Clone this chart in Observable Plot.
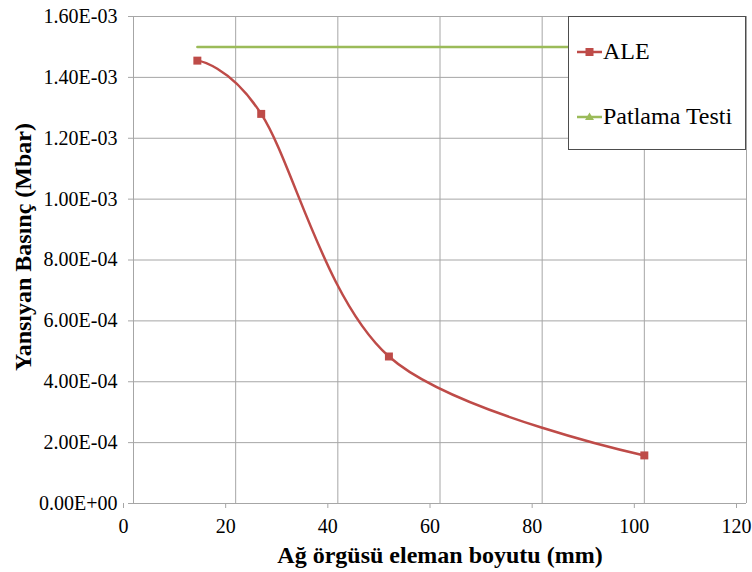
<!DOCTYPE html>
<html>
<head>
<meta charset="utf-8">
<script src="https://cdn.jsdelivr.net/npm/d3@7"></script>
<script src="https://cdn.jsdelivr.net/npm/@observablehq/plot@0.6"></script>
<style>
  html, body { margin: 0; padding: 0; background: #fff; }
  #chart { position: relative; width: 752px; height: 572px; }
  #chart svg text { font-family: "Liberation Serif", "Times New Roman", Tinos, "DejaVu Serif", serif !important; }
  #chart svg g[aria-label$="tick label"] text { font-size: 20px !important; }
</style>
</head>
<body>
<div id="chart"></div>
<script>
// Data
const aleX = [12.5, 25, 50, 100];
const aleY = [0.001455, 0.00128, 0.000483, 0.000158];
const testX = [12.5, 100];
const testY = [0.0015, 0.0015];
const xTicks = [0, 20, 40, 60, 80, 100, 120];
const yTicks = [0, 0.0002, 0.0004, 0.0006, 0.0008, 0.001, 0.0012, 0.0014, 0.0016];
const seriesNames = ["ALE", "Patlama Testi"];
const seriesColors = ["#be4b48", "#9bbb59"];
const xTitle = "Ağ örgüsü eleman boyutu (mm)";
const yTitle = "Yansıyan Basınç (Mbar)";

const ale = aleX.map((x, i) => ({x, y: aleY[i]}));
const test = testX.map((x, i) => ({x, y: testY[i]}));

function fmtE(d) {
  let [m, e] = d.toExponential(2).split("e");
  const sign = e[0] === "-" ? "-" : "+";
  e = e.replace(/^[+-]/, "").padStart(2, "0");
  return (m + "E" + sign + e);
}

const font = '"Liberation Serif", "Times New Roman", Tinos, "DejaVu Serif", serif';
const gridColor = "#a6a6a6";

const plot = Plot.plot({
  width: 752,
  height: 572,
  marginLeft: 133,
  marginRight: 6,
  marginTop: 16,
  marginBottom: 69,
  style: {fontFamily: font, fontSize: "20px", color: "#000", background: "#fff"},
  x: {domain: [0, 120], ticks: xTicks, label: null},
  y: {domain: [0, 0.0016], ticks: yTicks, label: null},
  marks: [
    Plot.gridX(xTicks.slice(1), {stroke: gridColor, strokeOpacity: 1}),
    Plot.gridY(yTicks.slice(1), {stroke: gridColor, strokeOpacity: 1}),
    Plot.ruleX([0], {stroke: gridColor}),
    Plot.ruleY([0], {stroke: gridColor}),
    Plot.axisX(xTicks, {tickSize: 5, tickPadding: 10, stroke: gridColor, fill: "#000", fontSize: 20, dx: -10, tickFormat: d => String(d)}),
    Plot.axisY(yTicks, {tickSize: 5, tickPadding: 11, stroke: gridColor, fill: "#000", fontSize: 20, tickFormat: fmtE}),
    Plot.line(test, {x: "x", y: "y", stroke: seriesColors[1], strokeWidth: 2.5}),
    Plot.line(ale, {x: "x", y: "y", stroke: seriesColors[0], strokeWidth: 2.5, curve: "cardinal"}),
    Plot.dot(ale, {x: "x", y: "y", symbol: "square", r: 4.5, fill: seriesColors[0], stroke: "none"}),
    Plot.text([xTitle], {frameAnchor: "bottom", dy: 59, lineAnchor: "bottom", fontSize: 24, fontWeight: "bold", fill: "#000"}),
    Plot.text([yTitle], {frameAnchor: "left", dx: -103, dy: -13, rotate: -90, textAnchor: "middle", lineAnchor: "bottom", fontSize: 24, fontWeight: "bold", fill: "#000"})
  ]
});

document.getElementById("chart").appendChild(plot);

// Legend box inside the plot area (drawn on top of the SVG)
const svg = d3.select(plot);
const lg = svg.append("g").attr("text-anchor", "start");
lg.append("rect").attr("x", 568.5).attr("y", 16.5).attr("width", 177).attr("height", 133)
  .attr("fill", "#fff").attr("stroke", "#4d4d4d").attr("stroke-width", 1);
const rows = [52, 117];
const baselines = [58.5, 124];
seriesNames.forEach((name, i) => {
  const y = rows[i];
  lg.append("line").attr("x1", 577).attr("x2", 602).attr("y1", y).attr("y2", y)
    .attr("stroke", seriesColors[i]).attr("stroke-width", 2.5);
  if (i === 0) {
    lg.append("rect").attr("x", 585.5).attr("y", y - 4).attr("width", 8).attr("height", 8).attr("fill", seriesColors[i]);
  } else {
    lg.append("path").attr("d", `M${589.5},${y - 4.5}L${594},${y + 3}L${585},${y + 3}Z`).attr("fill", seriesColors[i]);
  }
  lg.append("text").attr("x", 603).attr("y", baselines[i])
    .attr("text-anchor", "start")
    .attr("font-size", 24).attr("fill", "#000").text(name);
});
</script>
</body>
</html>
